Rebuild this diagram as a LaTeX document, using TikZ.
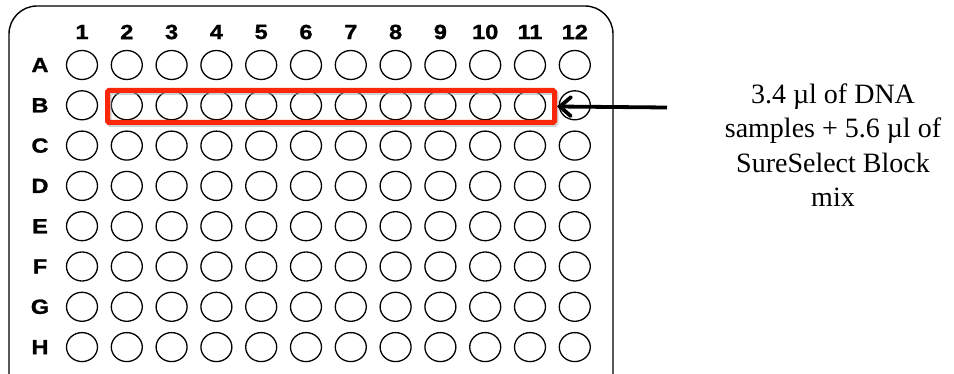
\documentclass[tikz,border=0pt]{standalone}
\usepackage{fontspec}
\setmainfont{Liberation Serif}
\newfontfamily\platefont[FakeStretch=1.15,FakeBold=1.2]{Liberation Sans}
\usetikzlibrary{arrows.meta,shapes.geometric}
\definecolor{selred}{RGB}{250,40,10}
\tikzset{
  well/.style={draw=black, line width=1.3pt, ellipse, minimum width=31pt, minimum height=29pt, inner sep=0pt},
  plabel/.style={font=\fontsize{20.5}{22}\platefont\bfseries\selectfont, inner sep=0pt},
  plate/.style={draw=black, line width=1.4pt, rounded corners=28pt},
  selbox/.style={draw=selred, line width=5pt, rounded corners=1.5pt, minimum width=447pt, minimum height=32pt, inner sep=0pt},
  shadowbox/.style={draw=black!35, line width=5pt, opacity=0.5, rounded corners=1.5pt, minimum width=447pt, minimum height=32pt, inner sep=0pt},
  pointer/.style={draw=black, line width=3.8pt, -{Straight Barb[length=11pt, width=19pt, line cap=round]}},
  note/.style={font=\fontsize{28}{34.5}\selectfont, align=center, inner sep=0pt}
}
\begin{document}
\begin{tikzpicture}[x=1pt,y=-1pt]
\useasboundingbox (0,0) rectangle (954,374);
\clip (0,0) rectangle (954,374);
\fill[white] (0,0) rectangle (954,374);
% plate outline
\draw[plate] (9,400) -- (9,6) -- (613,6) -- (613,400);
% column labels
\foreach \j in {1,...,12} {
  \node[plabel] (col\j) at ({82+44.8*(\j-1)},32) {\j};
}
% row labels and wells
\foreach \r [count=\i] in {A,B,C,D,E,F,G,H} {
  \node[plabel] (row\r) at (40,{65+40.3*(\i-1)}) {\r};
  \foreach \j in {1,...,12} {
    \node[well] (w\r\j) at ({82+44.8*(\j-1)},{65+40.3*(\i-1)}) {};
  }
}
% selection box
\node[shadowbox] (selshadow) at (332.5,108.5) {};
\node[selbox] (sel) at (331,106.5) {};
% arrow
\coordinate (tail) at (667,107.5);
\draw[pointer] (tail) -- (sel.east);
% note
\node[note] (txt) at (833,145) {3.4 µl of DNA\\samples + 5.6 µl of\\SureSelect Block\\mix};
\end{tikzpicture}
\end{document}
